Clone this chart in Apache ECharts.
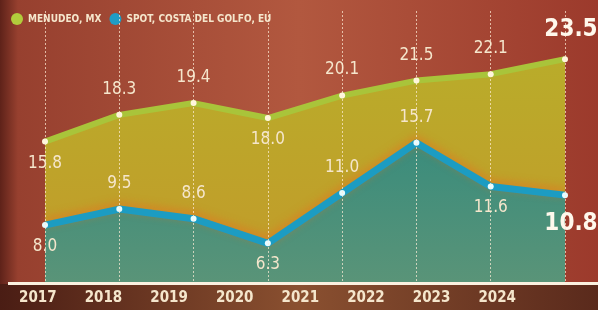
<!DOCTYPE html>
<html>
<head>
<meta charset="utf-8">
<script src="https://cdn.jsdelivr.net/npm/echarts@6/dist/echarts.min.js"></script>
<style>
  html, body { margin: 0; padding: 0; }
  #chart { width: 598px; height: 310px; }
</style>
</head>
<body>
<div id="chart"></div>
<script>
var years = ['2017', '2018', '2019', '2020', '2021', '2022', '2023', '2024'];
var menudeo = [15.8, 18.3, 19.4, 18.0, 20.1, 21.5, 22.1, 23.5];
var spot = [8.0, 9.5, 8.6, 6.3, 11.0, 15.7, 11.6, 10.8];

var cream = '#f5e6cc';
var font = "'Liberation Sans Narrow', 'DejaVu Sans Condensed', sans-serif";

// where each value label sits
var menudeoPos = ['bottom', 'top', 'top', 'bottom', 'top', 'top', 'top', 'top'];
var spotPos = ['bottom', 'top', 'top', 'bottom', 'top', 'top', 'bottom', 'bottom'];

function buildData(values, pos) {
    return values.map(function (v, i) {
        var last = i === values.length - 1;
        return {
            value: v,
            label: {
                position: pos[i],
                distance: pos[i] === 'top' ? 14 : 10,
                fontSize: last ? 24 : 17,
                fontWeight: last ? 'bold' : 'normal',
                color: last ? '#fff8ec' : cream,
                offset: last ? [6, pos[i] === 'bottom' ? 4 : 0] : [0, 0]
            }
        };
    });
}

var chart = echarts.init(document.getElementById('chart'));
chart.setOption({
    backgroundColor: new echarts.graphic.LinearGradient(0, 0, 1, 0, [
        { offset: 0, color: '#5e2219' },
        { offset: 0.03, color: '#97402f' },
        { offset: 0.5, color: '#b2583f' },
        { offset: 1, color: '#9c3a2c' }
    ]),
    legend: {
        left: 6,
        top: 8,
        itemWidth: 12,
        itemHeight: 12,
        itemGap: 8,
        icon: 'circle',
        textStyle: { color: cream, fontFamily: font, fontSize: 10, fontWeight: 'bold' },
        data: [
            { name: 'MENUDEO, MX', itemStyle: { color: '#b2cc3c' } },
            { name: 'SPOT, COSTA DEL GOLFO, EU', itemStyle: { color: '#1f9cc4' } }
        ]
    },
    graphic: [
        {
            type: 'rect',
            z: -1,
            shape: { x: 0, y: 284, width: 598, height: 26 },
            style: {
                fill: new echarts.graphic.LinearGradient(0, 0, 1, 0, [
                    { offset: 0, color: '#4a1d14' },
                    { offset: 0.5, color: '#8a5030' },
                    { offset: 1, color: '#5a2a1c' }
                ])
            }
        },
        {
            type: 'rect',
            z: 100,
            shape: { x: 8, y: 282, width: 590, height: 3 },
            style: { fill: '#fbf1e0' }
        }
    ],
    grid: [
        { left: 45, right: 33, top: 11, bottom: 26 },
        { left: 5, right: 68, top: 11, bottom: 26 }
    ],
    xAxis: [
        {
            type: 'category',
            gridIndex: 0,
            data: years,
            boundaryGap: false,
            axisLine: { show: false },
            axisTick: { show: false },
            axisLabel: { show: false },
            splitLine: {
                show: true,
                interval: 0,
                lineStyle: { color: 'rgba(255,238,215,0.7)', width: 1, type: [2, 2] }
            },
            z: 5
        },
        {
            type: 'category',
            gridIndex: 1,
            data: years,
            axisLine: { show: false },
            axisTick: { show: false },
            axisLabel: {
                margin: 7,
                color: cream,
                fontFamily: font,
                fontSize: 15,
                fontWeight: 'bold'
            }
        }
    ],
    yAxis: [
        { type: 'value', gridIndex: 0, min: 2.5, max: 28, show: false, splitLine: { show: false } },
        { type: 'value', gridIndex: 1, min: 2.5, max: 28, show: false, splitLine: { show: false } }
    ],
    series: [
        {
            name: 'MENUDEO, MX',
            type: 'line',
            data: buildData(menudeo, menudeoPos),
            symbol: 'circle',
            symbolSize: 6,
            itemStyle: { color: '#fff6dc', borderWidth: 0 },
            lineStyle: { color: '#a9c43a', width: 6 },
            areaStyle: {
                opacity: 1,
                color: new echarts.graphic.LinearGradient(0, 0, 0, 1, [
                    { offset: 0, color: '#b9ac2a' },
                    { offset: 1, color: '#c39a2a' }
                ])
            },
            label: { show: true, fontFamily: font, formatter: function (p) { return p.value.toFixed(1); } },
            z: 2
        },
        {
            name: 'SPOT, COSTA DEL GOLFO, EU',
            type: 'line',
            data: buildData(spot, spotPos),
            symbol: 'circle',
            symbolSize: 6,
            itemStyle: { color: '#e8fbff', borderWidth: 0 },
            lineStyle: { color: '#1c9cc2', width: 7, shadowColor: 'rgba(230,110,30,0.6)', shadowBlur: 8, shadowOffsetY: -3 },
            areaStyle: {
                opacity: 1,
                color: new echarts.graphic.LinearGradient(0, 0, 0, 1, [
                    { offset: 0, color: '#3a8c7c' },
                    { offset: 1, color: '#5a9478' }
                ])
            },
            label: { show: true, fontFamily: font, formatter: function (p) { return p.value.toFixed(1); } },
            z: 3
        }
    ]
});
</script>
</body>
</html>
